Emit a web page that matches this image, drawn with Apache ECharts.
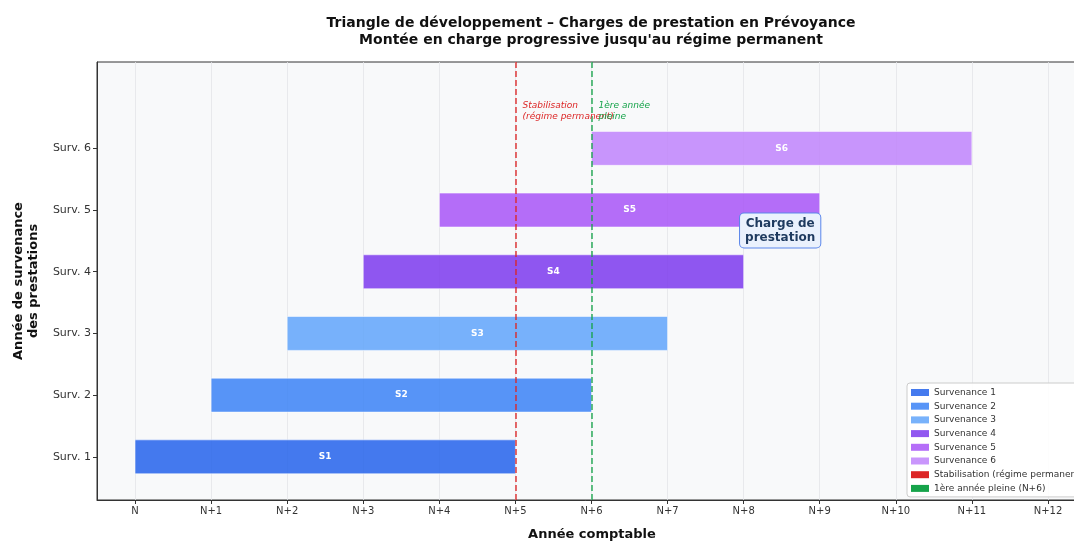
<!DOCTYPE html>
<html>
<head>
<meta charset="utf-8">
<script src="https://cdn.jsdelivr.net/npm/echarts@6/dist/echarts.min.js"></script>
<style>
  html, body { margin: 0; padding: 0; background: #ffffff; }
  #chart { width: 1074px; height: 541px; }
</style>
</head>
<body>
<div id="chart"></div>
<script>
// Années comptables (axe horizontal)
const years = ['N', 'N+1', 'N+2', 'N+3', 'N+4', 'N+5', 'N+6', 'N+7', 'N+8', 'N+9', 'N+10', 'N+11', 'N+12'];
const yearTicks = [0, 1, 2, 3, 4, 5, 6, 7, 8, 9, 10, 11, 12];

// Années de survenance (axe vertical)
const survRows = [1, 2, 3, 4, 5, 6];
const survLabels = ['Surv. 1', 'Surv. 2', 'Surv. 3', 'Surv. 4', 'Surv. 5', 'Surv. 6'];
const survNames = ['Survenance 1', 'Survenance 2', 'Survenance 3', 'Survenance 4', 'Survenance 5', 'Survenance 6'];
const barTags = ['S1', 'S2', 'S3', 'S4', 'S5', 'S6'];

// Période de charge de chaque survenance (année de début, année de fin)
const chargeStart = [0, 1, 2, 3, 4, 6];
const chargeEnd = [5, 6, 7, 8, 9, 11];

// Repères verticaux
const stabilisationYear = 5;
const pleineYear = 6;

const barColors = [
  'rgba(37,99,235,0.85)', 'rgba(59,130,246,0.85)', 'rgba(96,165,250,0.85)',
  'rgba(124,58,237,0.85)', 'rgba(168,85,247,0.85)', 'rgba(192,132,252,0.85)'
];
const red = '#dc2626';
const green = '#16a34a';
const FONT = 'DejaVu Sans';
const BAR_HEIGHT = 0.55;

const chart = echarts.init(document.getElementById('chart'), null, { renderer: 'canvas' });

function barRenderer(color, tag) {
  return function (params, api) {
    const start = api.coord([api.value(0), api.value(2)]);
    const end = api.coord([api.value(1), api.value(2)]);
    const h = api.size([0, BAR_HEIGHT])[1];
    return {
      type: 'rect',
      shape: { x: start[0], y: start[1] - h / 2, width: end[0] - start[0], height: h },
      style: { fill: color, stroke: 'rgba(255,255,255,0.9)', lineWidth: 0.6 },
      textContent: {
        type: 'text',
        style: { text: tag, fill: '#ffffff', font: 'bold 9px ' + FONT }
      },
      textConfig: { position: 'inside' }
    };
  };
}

const series = [];

// Quadrillage vertical sur chaque année, sous les barres
series.push({
  name: 'grille',
  type: 'line',
  data: [],
  silent: true,
  z: 1,
  markLine: {
    z: 1,
    silent: true,
    symbol: 'none',
    label: { show: false },
    lineStyle: { color: '#e3e5e8', width: 0.8, type: 'solid' },
    data: yearTicks.map(v => ({ xAxis: v }))
  }
});

survRows.forEach((row, i) => {
  series.push({
    name: survNames[i],
    type: 'custom',
    z: 3,
    itemStyle: { color: barColors[i] },
    renderItem: barRenderer(barColors[i], barTags[i]),
    encode: { x: [0, 1], y: 2 },
    data: [[chargeStart[i], chargeEnd[i], row]]
  });
});

series.push({
  name: 'Stabilisation (régime permanent)',
  type: 'line',
  data: [],
  z: 4,
  itemStyle: { color: red },
  lineStyle: { color: red },
  markLine: {
    z: 6,
    silent: true,
    symbol: 'none',
    label: { show: false },
    lineStyle: { color: red, opacity: 0.85, width: 1.6, type: [6, 3] },
    data: [{ xAxis: stabilisationYear }]
  }
});

series.push({
  name: '1ère année pleine (N+6)',
  type: 'line',
  data: [],
  z: 4,
  itemStyle: { color: green },
  lineStyle: { color: green },
  markLine: {
    z: 6,
    silent: true,
    symbol: 'none',
    label: { show: false },
    lineStyle: { color: green, opacity: 0.85, width: 1.6, type: [6, 3] },
    data: [{ xAxis: pleineYear }]
  }
});

// Libellés des repères verticaux et encadré
series.push({
  name: 'notes',
  type: 'scatter',
  z: 7,
  symbolSize: 1,
  itemStyle: { color: 'transparent', opacity: 1 },
  silent: true,
  data: [
    {
      value: [stabilisationYear + 0.1, 6.78],
      label: {
        show: true, position: [0, 0], align: 'left', verticalAlign: 'top',
        formatter: 'Stabilisation\n(régime permanent)',
        color: red, fontStyle: 'italic', fontFamily: FONT, fontSize: 9, lineHeight: 11
      }
    },
    {
      value: [pleineYear + 0.1, 6.78],
      label: {
        show: true, position: [0, 0], align: 'left', verticalAlign: 'top',
        formatter: '1ère année\npleine',
        color: green, fontStyle: 'italic', fontFamily: FONT, fontSize: 9, lineHeight: 11
      }
    },
    {
      value: [8.48, 4.67],
      label: {
        show: true, position: 'inside', align: 'center', verticalAlign: 'middle',
        formatter: 'Charge de\nprestation',
        color: '#1e3a5f', fontWeight: 'bold', fontFamily: FONT, fontSize: 12, lineHeight: 14,
        backgroundColor: '#eaf1fd', borderColor: '#5b86ea', borderWidth: 1, borderRadius: 4,
        padding: [3, 5, 3, 5]
      }
    }
  ]
});

const option = {
  backgroundColor: '#ffffff',
  animation: false,
  textStyle: { fontFamily: FONT },
  grid: {
    left: 97, top: 62, right: -12, bottom: 41,
    outerBoundsMode: 'none',
    show: true, backgroundColor: '#f8f9fa', borderColor: '#333333', borderWidth: 1,
    containLabel: false
  },
  xAxis: {
    type: 'value',
    min: -0.5,
    max: 12.5,
    axisLine: { show: true, onZero: false, lineStyle: { color: '#333333', width: 1 } },
    axisTick: { show: true, length: 4, lineStyle: { color: '#333333' }, customValues: yearTicks },
    axisLabel: {
      customValues: yearTicks,
      formatter: v => years[Math.round(v)],
      color: '#333333', fontSize: 10, fontFamily: FONT, margin: 6
    },
    splitLine: { show: false }
  },
  yAxis: {
    type: 'value',
    min: 0.3,
    max: 7.4,
    axisLine: { show: true, onZero: false, lineStyle: { color: '#333333', width: 1 } },
    axisTick: { show: true, length: 4, lineStyle: { color: '#333333' }, customValues: survRows },
    axisLabel: {
      customValues: survRows,
      formatter: v => survLabels[Math.round(v) - 1],
      color: '#333333', fontSize: 11, fontFamily: FONT, margin: 6
    },
    splitLine: { show: false }
  },
  legend: {
    orient: 'vertical',
    left: 907,
    top: 383,
    icon: 'rect',
    itemWidth: 18,
    itemHeight: 7,
    itemGap: 4.7,
    padding: [5, 6, 4, 4],
    backgroundColor: 'rgba(255,255,255,0.9)',
    borderColor: '#cccccc',
    borderWidth: 1,
    borderRadius: 3,
    textStyle: { fontSize: 9, color: '#333333', fontFamily: FONT },
    data: survNames.concat(['Stabilisation (régime permanent)', '1ère année pleine (N+6)'])
  },
  graphic: [
    {
      type: 'text', x: 591, y: 15, silent: true,
      style: {
        text: 'Triangle de développement – Charges de prestation en Prévoyance\nMontée en charge progressive jusqu\'au régime permanent',
        align: 'center', verticalAlign: 'top',
        font: 'bold 14px ' + FONT, lineHeight: 17, fill: '#111111'
      }
    },
    {
      type: 'text', x: 26, y: 281, rotation: Math.PI / 2, silent: true,
      style: {
        text: 'Année de survenance\ndes prestations',
        align: 'center', verticalAlign: 'middle',
        font: 'bold 13px ' + FONT, lineHeight: 15, fill: '#111111'
      }
    },
    {
      type: 'text', x: 592, y: 528, silent: true,
      style: {
        text: 'Année comptable',
        align: 'center', verticalAlign: 'top',
        font: 'bold 13px ' + FONT, fill: '#111111'
      }
    }
  ],
  series: series
};

chart.setOption(option);
</script>
</body>
</html>
